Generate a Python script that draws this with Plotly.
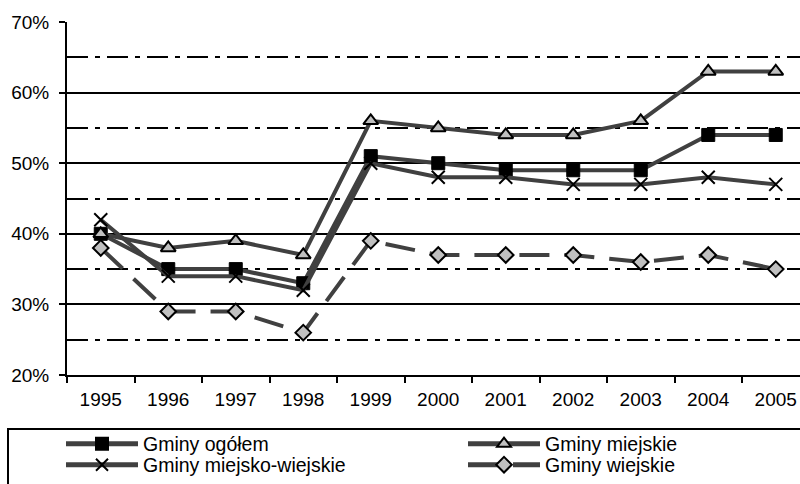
import plotly.graph_objects as go

years = ["1995", "1996", "1997", "1998", "1999", "2000", "2001", "2002", "2003", "2004", "2005"]
gminy_ogolem = [40, 35, 35, 33, 51, 50, 49, 49, 49, 54, 54]
gminy_miejskie = [40, 38, 39, 37, 56, 55, 54, 54, 56, 63, 63]
gminy_miejsko_wiejskie = [42, 34, 34, 32, 50, 48, 48, 47, 47, 48, 47]
gminy_wiejskie = [38, 29, 29, 26, 39, 37, 37, 37, 36, 37, 35]

LINE = "#404040"
GRAY = "#c0c0c0"
FONT = "Liberation Sans, Arial, sans-serif"

fig = go.Figure()
fig.add_trace(go.Scatter(
    x=years, y=gminy_ogolem, name="Gminy ogółem", mode="lines+markers", legend="legend",
    line=dict(color=LINE, width=4),
    marker=dict(symbol="square", size=13, color="black", line=dict(color="black", width=1)),
))
fig.add_trace(go.Scatter(
    x=years, y=gminy_miejskie, name="Gminy miejskie", mode="lines+markers", legend="legend",
    line=dict(color=LINE, width=4),
    marker=dict(symbol="triangle-up", size=13, color=GRAY, line=dict(color="black", width=2)),
))
fig.add_trace(go.Scatter(
    x=years, y=gminy_miejsko_wiejskie, name="Gminy miejsko-wiejskie", mode="lines+markers", legend="legend2",
    line=dict(color=LINE, width=4),
    marker=dict(symbol="x-thin", size=13, color="black", line=dict(color="black", width=2)),
))
fig.add_trace(go.Scatter(
    x=years, y=gminy_wiejskie, name="Gminy wiejskie", mode="lines+markers", legend="legend2",
    line=dict(color=LINE, width=4, dash="30px,15px"),
    marker=dict(symbol="diamond", size=12, color=GRAY, line=dict(color="black", width=2)),
))

L, T, B = 67, 22, 109
W, H = 800, 484
pw = W - L
ph = H - T - B


def px_x(p):
    return (p - L) / pw


def px_y(p):
    return (ph + T - p) / ph


def legend_row(py):
    return dict(
        orientation="h",
        x=px_x(61), xanchor="left",
        y=px_y(py), yanchor="middle",
        entrywidth=315, entrywidthmode="pixels",
        itemwidth=72, itemsizing="constant",
        font=dict(family=FONT, size=19.5, color="black"),
        bgcolor="rgba(0,0,0,0)", borderwidth=0,
        traceorder="normal",
    )


fig.update_layout(
    width=W, height=H,
    margin=dict(l=L, r=0, t=T, b=B, autoexpand=False),
    paper_bgcolor="white", plot_bgcolor="white",
    font=dict(family=FONT, size=19, color="black"),
    showlegend=True,
    legend=legend_row(444),
    legend2=legend_row(465),
    xaxis=dict(
        type="category",
        range=[-0.5, (W - L) / 67.5 - 0.5],
        showgrid=False, zeroline=False,
        showline=True, linecolor="black", linewidth=2,
        ticks="outside", tickson="boundaries", ticklen=6, tickwidth=2, tickcolor="black",
        ticklabelstandoff=6,
        tickfont=dict(size=19),
    ),
    yaxis=dict(
        range=[20, 70], tick0=20, dtick=10, ticksuffix="%",
        showgrid=True, gridcolor="black", gridwidth=2,
        zeroline=False,
        showline=True, linecolor="black", linewidth=2,
        ticks="outside", ticklen=6, tickwidth=2, tickcolor="black",
        ticklabelstandoff=6,
        tickfont=dict(size=19),
        minor=dict(tick0=25, dtick=10, showgrid=True, gridcolor="black", gridwidth=2,
                   griddash="21px,7px,5px,7px", ticks=""),
    ),
    shapes=[dict(
        type="rect", xref="paper", yref="paper",
        x0=px_x(8), x1=px_x(806),
        y0=px_y(429), y1=px_y(492),
        line=dict(color="black", width=2), fillcolor="rgba(0,0,0,0)", layer="above",
    )],
)

fig.write_html("out.html", config={"displayModeBar": False},
               post_script="document.body.style.margin='0';")
